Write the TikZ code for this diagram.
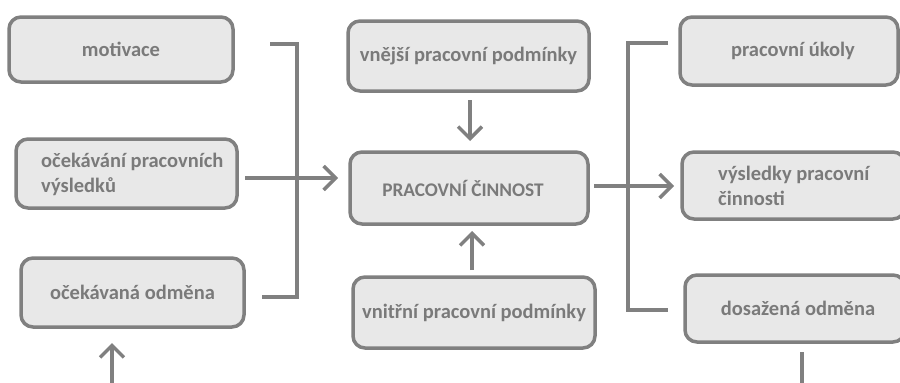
\documentclass[tikz,border=0pt]{standalone}
\usepackage{fontspec}
\setmainfont{Carlito}
\usetikzlibrary{arrows.meta}
\definecolor{boxfill}{HTML}{E8E8E8}
\definecolor{edge}{HTML}{808080}
\definecolor{txt}{HTML}{7A7A7A}
\begin{document}
\begin{tikzpicture}[x=1pt,y=-1pt,
  box/.style={draw=edge, fill=boxfill, line width=3.5pt, rounded corners=12pt,
    inner sep=0pt, text=txt, font=\fontsize{20.5}{25}\selectfont\bfseries},
  lbl/.style={inner sep=0pt, text=txt, align=left, anchor=west,
    font=\fontsize{20.5}{25}\selectfont\bfseries},
  conn/.style={draw=edge, line width=3.5pt},
  arr/.style={conn, -{Straight Barb[length=12pt,width=24pt,line width=3.5pt]}}
]
\useasboundingbox (0,0) rectangle (900,383);

% input boxes
\node[box, minimum width=224pt, minimum height=65pt] (mot) at (121,49.5) {motivace};
\node[box, minimum width=221pt, minimum height=69pt] (oce) at (126.5,173.5) {};
\node[lbl] (oceT) at (41,174.5) {očekávání pracovních\\výsledků};
\node[box, minimum width=223pt, minimum height=69pt] (odm) at (132.5,292.5) {očekávaná odměna};

% central column
\node[box, minimum width=241pt, minimum height=70pt] (vne) at (468.5,56) {vnější pracovní podmínky};
\node[box, minimum width=238pt, minimum height=72pt,
      font=\fontsize{19.3}{24}\selectfont\bfseries] (pc) at (469,188) {\hspace*{-12pt}PRACOVNÍ ČINNOST};
\node[box, minimum width=242pt, minimum height=71pt] (vni) at (474,312.5) {vnitřní pracovní podmínky};

% output boxes
\node[box, minimum width=218pt, minimum height=68pt] (uk) at (789,51) {\hspace*{8pt}pracovní úkoly};
\node[box, minimum width=223pt, minimum height=67pt] (vys) at (793.5,185.5) {};
\node[lbl] (vysT) at (718,186) {výsledky pracovní\\činnosti};
\node[box, minimum width=220pt, minimum height=67pt] (dos) at (795,308.5) {\hspace*{6pt}dosažená odměna};

% left bracket joining the inputs
\coordinate (lt) at (270,44);
\coordinate (lc) at (297,44);
\coordinate (lb) at (297,297);
\coordinate (le) at (262,297);
\draw[conn] (lt) -- (lc) -- (lb) -- (le);
\coordinate (ls) at (245,178);
\coordinate (lend) at (338,178);
\draw[arr] (ls) -- (lend);

% conditions acting on the activity
\coordinate (vs) at (470,100);
\coordinate (ve) at (470,141);
\draw[arr] (vs) -- (ve);
\coordinate (is) at (472,270);
\coordinate (ie) at (472,231);
\draw[arr] (is) -- (ie);

% outputs of the activity
\coordinate (os) at (594,186);
\coordinate (oe) at (674,186);
\draw[arr] (os) -- (oe);
\coordinate (rt) at (668,43);
\coordinate (rc) at (628,43);
\coordinate (rb) at (628,310);
\coordinate (re) at (668,310);
\draw[conn] (rt) -- (rc) -- (rb) -- (re);

% feedback lines leaving the bottom edge
\coordinate (fs) at (112,383);
\coordinate (fe) at (112,343);
\draw[arr] (fs) -- (fe);
\coordinate (ds) at (802,352);
\coordinate (de) at (802,383);
\draw[conn] (ds) -- (de);
\end{tikzpicture}
\end{document}
